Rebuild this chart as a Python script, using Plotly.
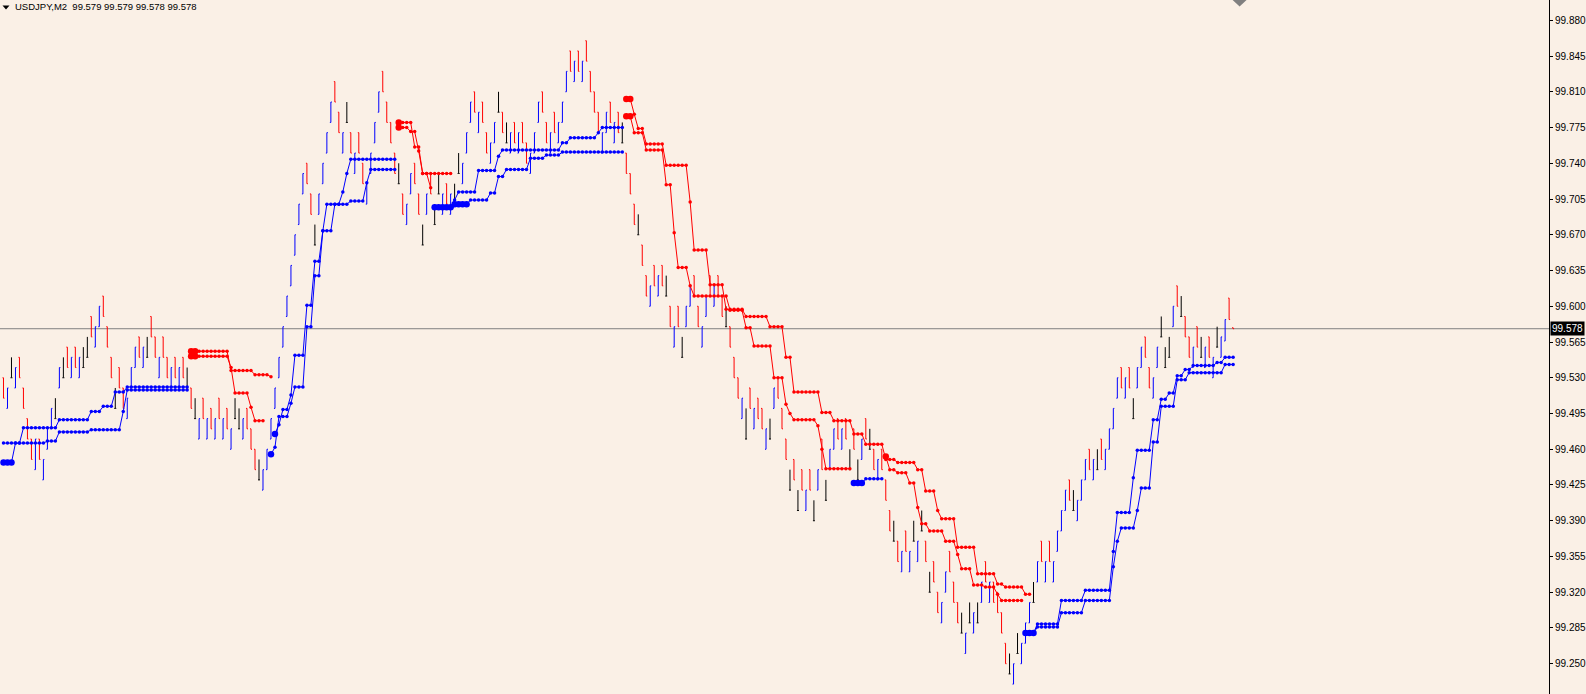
import plotly.graph_objects as go

# ---------------- data ----------------
symbol = "USDJPY"
timeframe = "M2"
last_quote = [99.579, 99.579, 99.578, 99.578]   # O H L C of the current bar
current_price = 99.578

# range bars: high / low per bar, direction u=up (blue), d=down (red), k=doji (black)
bar_high = [
    99.53, 99.52, 99.55, 99.54, 99.55, 99.52, 99.49, 99.47, 99.47, 99.47,
    99.45, 99.48, 99.50, 99.51, 99.54, 99.55, 99.56, 99.55, 99.56, 99.55,
    99.56, 99.57, 99.59, 99.58, 99.60, 99.61, 99.58, 99.55, 99.52, 99.54,
    99.52, 99.51, 99.54, 99.56, 99.57, 99.56, 99.57, 99.59, 99.57, 99.55,
    99.57, 99.55, 99.54, 99.55, 99.54, 99.55, 99.54, 99.52, 99.51, 99.49,
    99.51, 99.49, 99.50, 99.49, 99.51, 99.49, 99.50, 99.48, 99.51, 99.50,
    99.49, 99.50, 99.48, 99.46, 99.45, 99.44, 99.46, 99.49, 99.52, 99.55,
    99.58, 99.61, 99.64, 99.67, 99.70, 99.73, 99.74, 99.71, 99.68, 99.71,
    99.74, 99.77, 99.80, 99.82, 99.79, 99.77, 99.80, 99.77, 99.75, 99.77,
    99.74, 99.72, 99.75, 99.78, 99.81, 99.83, 99.80, 99.78, 99.75, 99.74,
    99.71, 99.70, 99.73, 99.74, 99.71, 99.68, 99.71, 99.73, 99.70, 99.73,
    99.71, 99.72, 99.71, 99.72, 99.75, 99.74, 99.77, 99.80, 99.81, 99.79,
    99.80, 99.77, 99.76, 99.78, 99.81, 99.79, 99.78, 99.77, 99.78, 99.77,
    99.78, 99.76, 99.75, 99.77, 99.80, 99.81, 99.78, 99.77, 99.79, 99.78,
    99.80, 99.83, 99.85, 99.84, 99.85, 99.84, 99.86, 99.83, 99.81, 99.79,
    99.77, 99.79, 99.80, 99.78, 99.79, 99.78, 99.75, 99.73, 99.70, 99.69,
    99.66, 99.63, 99.62, 99.64, 99.63, 99.64, 99.63, 99.60, 99.58, 99.60,
    99.57, 99.60, 99.62, 99.63, 99.60, 99.58, 99.61, 99.63, 99.62, 99.63,
    99.61, 99.60, 99.58, 99.55, 99.53, 99.51, 99.50, 99.52, 99.50, 99.51,
    99.50, 99.48, 99.49, 99.52, 99.53, 99.50, 99.47, 99.44, 99.45, 99.42,
    99.44, 99.42, 99.44, 99.41, 99.44, 99.47, 99.43, 99.46, 99.48, 99.49,
    99.48, 99.49, 99.46, 99.48, 99.45, 99.47, 99.49, 99.48, 99.46, 99.45,
    99.46, 99.43, 99.40, 99.39, 99.37, 99.36, 99.38, 99.36, 99.39, 99.37,
    99.40, 99.37, 99.34, 99.35, 99.32, 99.31, 99.34, 99.36, 99.33, 99.31,
    99.30, 99.28, 99.31, 99.30, 99.31, 99.33, 99.35, 99.33, 99.33, 99.32,
    99.30, 99.27, 99.26, 99.25, 99.28, 99.27, 99.29, 99.31, 99.33, 99.35,
    99.37, 99.35, 99.37, 99.35, 99.38, 99.40, 99.42, 99.43, 99.42, 99.41,
    99.43, 99.45, 99.46, 99.45, 99.46, 99.47, 99.46, 99.48, 99.50, 99.53,
    99.54, 99.53, 99.54, 99.51, 99.54, 99.56, 99.57, 99.54, 99.53, 99.56,
    99.59, 99.56, 99.57, 99.60, 99.62, 99.61, 99.59, 99.57, 99.56, 99.58,
    99.57, 99.56, 99.57, 99.55, 99.58, 99.57, 99.587, 99.608, 99.579,
]
bar_low = [
    99.51, 99.50, 99.53, 99.52, 99.53, 99.50, 99.47, 99.45, 99.44, 99.45,
    99.43, 99.46, 99.48, 99.49, 99.52, 99.53, 99.54, 99.53, 99.54, 99.53,
    99.54, 99.55, 99.57, 99.56, 99.58, 99.59, 99.56, 99.53, 99.50, 99.52,
    99.50, 99.49, 99.52, 99.54, 99.55, 99.54, 99.55, 99.57, 99.55, 99.53,
    99.55, 99.53, 99.52, 99.53, 99.52, 99.53, 99.52, 99.50, 99.49, 99.47,
    99.49, 99.47, 99.48, 99.47, 99.49, 99.47, 99.48, 99.46, 99.49, 99.48,
    99.47, 99.48, 99.46, 99.44, 99.43, 99.42, 99.44, 99.47, 99.50, 99.53,
    99.56, 99.59, 99.62, 99.65, 99.68, 99.71, 99.72, 99.69, 99.66, 99.69,
    99.72, 99.75, 99.78, 99.80, 99.77, 99.75, 99.78, 99.75, 99.73, 99.75,
    99.72, 99.70, 99.73, 99.76, 99.79, 99.81, 99.78, 99.76, 99.73, 99.72,
    99.69, 99.68, 99.71, 99.72, 99.69, 99.66, 99.69, 99.71, 99.68, 99.71,
    99.69, 99.70, 99.69, 99.70, 99.73, 99.72, 99.75, 99.78, 99.79, 99.77,
    99.78, 99.75, 99.74, 99.76, 99.79, 99.77, 99.76, 99.75, 99.76, 99.75,
    99.76, 99.74, 99.73, 99.75, 99.78, 99.79, 99.76, 99.75, 99.77, 99.76,
    99.78, 99.81, 99.83, 99.82, 99.83, 99.82, 99.84, 99.81, 99.79, 99.77,
    99.75, 99.77, 99.78, 99.76, 99.77, 99.76, 99.73, 99.71, 99.68, 99.67,
    99.64, 99.61, 99.60, 99.62, 99.61, 99.62, 99.61, 99.58, 99.56, 99.58,
    99.55, 99.58, 99.60, 99.61, 99.58, 99.56, 99.59, 99.61, 99.60, 99.61,
    99.59, 99.58, 99.56, 99.53, 99.51, 99.49, 99.47, 99.50, 99.48, 99.49,
    99.48, 99.46, 99.47, 99.50, 99.51, 99.48, 99.45, 99.42, 99.43, 99.40,
    99.42, 99.40, 99.42, 99.39, 99.42, 99.44, 99.41, 99.44, 99.46, 99.47,
    99.46, 99.47, 99.44, 99.46, 99.43, 99.45, 99.47, 99.46, 99.44, 99.43,
    99.44, 99.41, 99.38, 99.37, 99.35, 99.34, 99.36, 99.34, 99.37, 99.35,
    99.38, 99.35, 99.32, 99.33, 99.30, 99.29, 99.32, 99.34, 99.31, 99.29,
    99.28, 99.26, 99.29, 99.28, 99.29, 99.31, 99.33, 99.31, 99.31, 99.30,
    99.28, 99.25, 99.24, 99.23, 99.26, 99.25, 99.27, 99.29, 99.31, 99.33,
    99.35, 99.33, 99.35, 99.33, 99.36, 99.38, 99.40, 99.41, 99.40, 99.39,
    99.41, 99.43, 99.44, 99.43, 99.44, 99.45, 99.44, 99.46, 99.48, 99.51,
    99.52, 99.51, 99.52, 99.49, 99.52, 99.54, 99.55, 99.52, 99.51, 99.54,
    99.57, 99.54, 99.55, 99.58, 99.60, 99.59, 99.57, 99.55, 99.54, 99.56,
    99.55, 99.54, 99.55, 99.53, 99.56, 99.55, 99.566, 99.587, 99.578,
]
bar_dir = (
    "dukuddddud" "uuukukdudu" "kkduudddkd" "duuudukddu" "ddududkdku"
    "dudududukk" "udddkuuuuu" "uuuuuuddku" "uuuddukdud" "duuuuddddk"
    "duuddkudkk" "udukkuuudu" "dduukdkudu" "dduuuddudu" "uudududddd"
    "uududkdddk" "ddududkdud" "kuudduudud" "dkdddukdud" "dukudddkdk"
    "dudkudkuud" "udkdkudkdu" "dddkduduku" "kdkdduuddd" "kukukududd"
    "ddkukuuuku" "duduuuudku" "uudukduuuu" "dudkuudduu" "kkkudkddud"
    "kudukuudd"
)


def run(value, count):
    return [value] * count


# trailing-stop lines (fast and slow), blue while below price, red while above
blue_fast = (
    run(99.466, 5) + run(99.481, 9) + run(99.489, 8) + run(99.497, 3) + run(99.502, 3)
    + run(99.516, 3) + run(99.521, 16)
    + run(None, 21)
    + [99.475, 99.484] + run(99.499, 2) + [99.513] + run(99.552, 3) + run(99.601, 2)
    + run(99.644, 2) + [99.674] + run(99.700, 4) + [99.712, 99.730] + run(99.744, 12)
    + run(None, 9)
    + run(99.697, 5) + [99.704] + run(99.712, 5) + run(99.733, 5) + [99.747]
    + run(99.753, 15) + run(99.760, 2) + run(99.765, 7) + [99.770] + run(99.775, 6)
    + run(None, 57)
    + run(99.427, 3) + run(99.431, 5)
    + run(None, 35)
    + run(99.280, 3) + run(99.289, 6) + run(99.312, 6) + run(99.322, 7) + [99.360]
    + run(99.398, 4) + [99.432] + run(99.459, 4) + run(99.489, 2) + run(99.509, 2)
    + run(99.515, 2) + run(99.532, 2) + run(99.538, 2) + run(99.542, 6) + run(99.545, 2)
    + run(99.550, 3)
)
blue_slow = (
    run(99.447, 3) + run(99.466, 8) + run(99.468, 3) + run(99.477, 8) + run(99.479, 8)
    + [99.497] + run(99.518, 16)
    + run(None, 20)
    + [99.455, 99.462] + run(99.492, 3) + [99.505] + run(99.521, 3) + run(99.580, 2)
    + run(99.630, 2) + run(99.674, 3) + run(99.700, 4) + run(99.703, 4) + [99.721]
    + run(99.734, 7)
    + run(None, 14)
    + run(99.700, 4) + run(99.704, 5) + run(99.711, 2) + run(99.727, 2) + run(99.734, 6)
    + run(99.745, 4) + run(99.748, 4) + run(99.751, 16)
    + run(None, 100)
    + run(99.280, 3) + run(99.286, 6) + run(99.300, 6) + run(99.312, 7) + [99.345, 99.370]
    + run(99.383, 4) + [99.400] + run(99.422, 3) + run(99.467, 2) + run(99.502, 4)
    + run(99.528, 3) + run(99.535, 9) + run(99.543, 3)
)
red_slow = (
    run(None, 47)
    + run(99.556, 10) + run(99.537, 6) + run(99.533, 4) + [99.531]
    + run(None, 31)
    + run(99.780, 4) + run(99.756, 2) + run(99.730, 8)
    + run(None, 43)
    + run(99.803, 2) + [99.788] + run(99.774, 2) + run(99.759, 5) + run(99.738, 6)
    + [99.702] + run(99.655, 4) + run(99.621, 4) + run(99.597, 5) + run(99.590, 6)
    + run(99.580, 4) + run(99.550, 2) + run(99.516, 7) + run(99.496, 3) + run(99.488, 5)
    + run(99.475, 3) + run(99.465, 5) + run(99.450, 3) + run(99.447, 5) + run(99.440, 2)
    + run(99.419, 3) + [99.400] + run(99.392, 4) + run(99.364, 5) + run(99.338, 5)
    + run(99.328, 2) + run(99.325, 5) + run(99.318, 2)
    + run(None, 51)
)
red_fast = (
    run(None, 47)
    + run(99.551, 10) + [99.540] + run(99.515, 4) + [99.501] + run(99.488, 3)
    + run(None, 33)
    + run(99.775, 3) + run(99.771, 2) + [99.752] + run(99.730, 2) + [99.716]
    + run(None, 48)
    + run(99.786, 2) + run(99.770, 3) + run(99.753, 5) + run(99.719, 2) + [99.672]
    + run(99.638, 3) + [99.620] + run(99.610, 9) + run(99.596, 4) + run(99.579, 2)
    + run(99.561, 5) + run(99.530, 3) + [99.504, 99.495] + run(99.489, 6)
    + [99.483, 99.460] + run(99.441, 7)
    + run(None, 8)
    + [99.453] + run(99.440, 2) + run(99.437, 3) + run(99.427, 2) + [99.403]
    + run(99.387, 2) + run(99.380, 4) + run(99.370, 3) + [99.357] + run(99.343, 3)
    + run(99.327, 3) + run(99.325, 3) + [99.318] + run(99.312, 6)
    + run(None, 53)
)

# trend-change signal dots
blue_signal_bar = [0, 1, 2, 67, 68, 108, 109, 110, 111, 112, 113, 114, 115, 116,
                   213, 214, 215, 256, 257, 258]
blue_signal_price = [99.447, 99.447, 99.447, 99.455, 99.475,
                     99.697, 99.697, 99.697, 99.697, 99.697,
                     99.700, 99.700, 99.700, 99.700,
                     99.427, 99.427, 99.427, 99.280, 99.280, 99.280]
red_signal_bar = [47, 48, 47, 48, 99, 99, 156, 157, 156, 157, 221]
red_signal_price = [99.556, 99.556, 99.551, 99.551, 99.780, 99.775,
                    99.803, 99.803, 99.786, 99.786, 99.453]

price_ticks = [99.880, 99.845, 99.810, 99.775, 99.740, 99.705, 99.670, 99.635,
               99.600, 99.565, 99.530, 99.495, 99.460, 99.425, 99.390, 99.355,
               99.320, 99.285, 99.250]

N = len(bar_high)
assert len(bar_low) == N and len(bar_dir) == N
for s in (blue_fast, blue_slow, red_fast, red_slow):
    assert len(s) == N, len(s)

# ---------------- figure ----------------
W, H = 1586, 694
PLOT_W = 1552
BG = "#FAF0E6"
BLUE, RED, BLACK = "#0000FF", "#FF0000", "#000000"

fig = go.Figure()

dir_colors = {"u": BLUE, "d": RED, "k": BLACK}
for code, col in dir_colors.items():
    idx = [i for i in range(N) if bar_dir[i] == code]
    hi = [bar_high[i] for i in idx]
    lo = [bar_low[i] for i in idx]
    if code == "u":
        op, cl = lo, hi
    elif code == "d":
        op, cl = hi, lo
    else:
        op, cl = lo, lo
    fig.add_trace(go.Ohlc(
        x=idx, open=op, high=hi, low=lo, close=cl,
        increasing=dict(line=dict(color=col, width=1)),
        decreasing=dict(line=dict(color=col, width=1)),
        tickwidth=0.25, showlegend=False, hoverinfo="skip",
    ))

xs = list(range(N))
for series, col in ((blue_slow, BLUE), (blue_fast, BLUE), (red_slow, RED), (red_fast, RED)):
    fig.add_trace(go.Scatter(
        x=xs, y=series, mode="lines+markers", connectgaps=False,
        line=dict(color=col, width=1), marker=dict(color=col, size=3.5),
        showlegend=False, hoverinfo="skip",
    ))

fig.add_trace(go.Scatter(x=blue_signal_bar, y=blue_signal_price, mode="markers",
                         marker=dict(color=BLUE, size=6.5), showlegend=False, hoverinfo="skip"))
fig.add_trace(go.Scatter(x=red_signal_bar, y=red_signal_price, mode="markers",
                         marker=dict(color=RED, size=6.5), showlegend=False, hoverinfo="skip"))


def px(x):
    return x / PLOT_W


def py(y):
    return 1 - y / H


fig.update_layout(
    width=W, height=H,
    margin=dict(l=0, r=W - PLOT_W, t=0, b=0),
    paper_bgcolor=BG, plot_bgcolor=BG,
    showlegend=False,
    xaxis=dict(range=[-0.875, -0.875 + PLOT_W / 4], visible=False,
               rangeslider=dict(visible=False), showgrid=False, zeroline=False),
    yaxis=dict(range=[99.22035, 99.89988], side="right",
               tickvals=price_ticks, ticktext=[f"{v:.3f}" for v in price_ticks],
               ticks="outside", ticklen=3, tickwidth=1, tickcolor="black",
               showline=True, linecolor="black", linewidth=1,
               showgrid=False, zeroline=False,
               tickfont=dict(family="Liberation Sans", size=10, color="black")),
    shapes=[
        dict(type="line", xref="paper", yref="y", x0=0, x1=1,
             y0=current_price, y1=current_price,
             line=dict(color="#808080", width=1), layer="below"),
        dict(type="path", xref="paper", yref="paper",
             path=f"M {px(2.5)},{py(5.5)} L {px(9.5)},{py(5.5)} L {px(6)},{py(9.5)} Z",
             fillcolor="black", line=dict(width=0)),
        dict(type="path", xref="paper", yref="paper",
             path=f"M {px(1235)},{py(0)} L {px(1249)},{py(0)} L {px(1242)},{py(6.5)} Z",
             fillcolor="#808080", line=dict(width=0)),
    ],
    annotations=[
        dict(x=0, y=1, xref="paper", yref="paper", xanchor="left", yanchor="top",
             xshift=13, yshift=1, showarrow=False,
             text=f"{symbol},{timeframe}\u00a0\u00a0" + " ".join(f"{v:.3f}" for v in last_quote),
             font=dict(family="Liberation Sans", size=9.5, color="black")),
        dict(x=1, y=current_price, xref="paper", yref="y", xanchor="left", yanchor="middle",
             xshift=1, showarrow=False, text=f"{current_price:.3f}",
             bgcolor="black", borderpad=1,
             font=dict(family="Liberation Sans", size=10, color="white")),
    ],
)

fig.write_html(
    "out.html",
    config={"displayModeBar": False},
    post_script=(
        "document.body.style.margin='0';document.body.style.padding='0';"
        f"document.body.style.background='{BG}';document.body.style.overflow='hidden';"
    ),
)
